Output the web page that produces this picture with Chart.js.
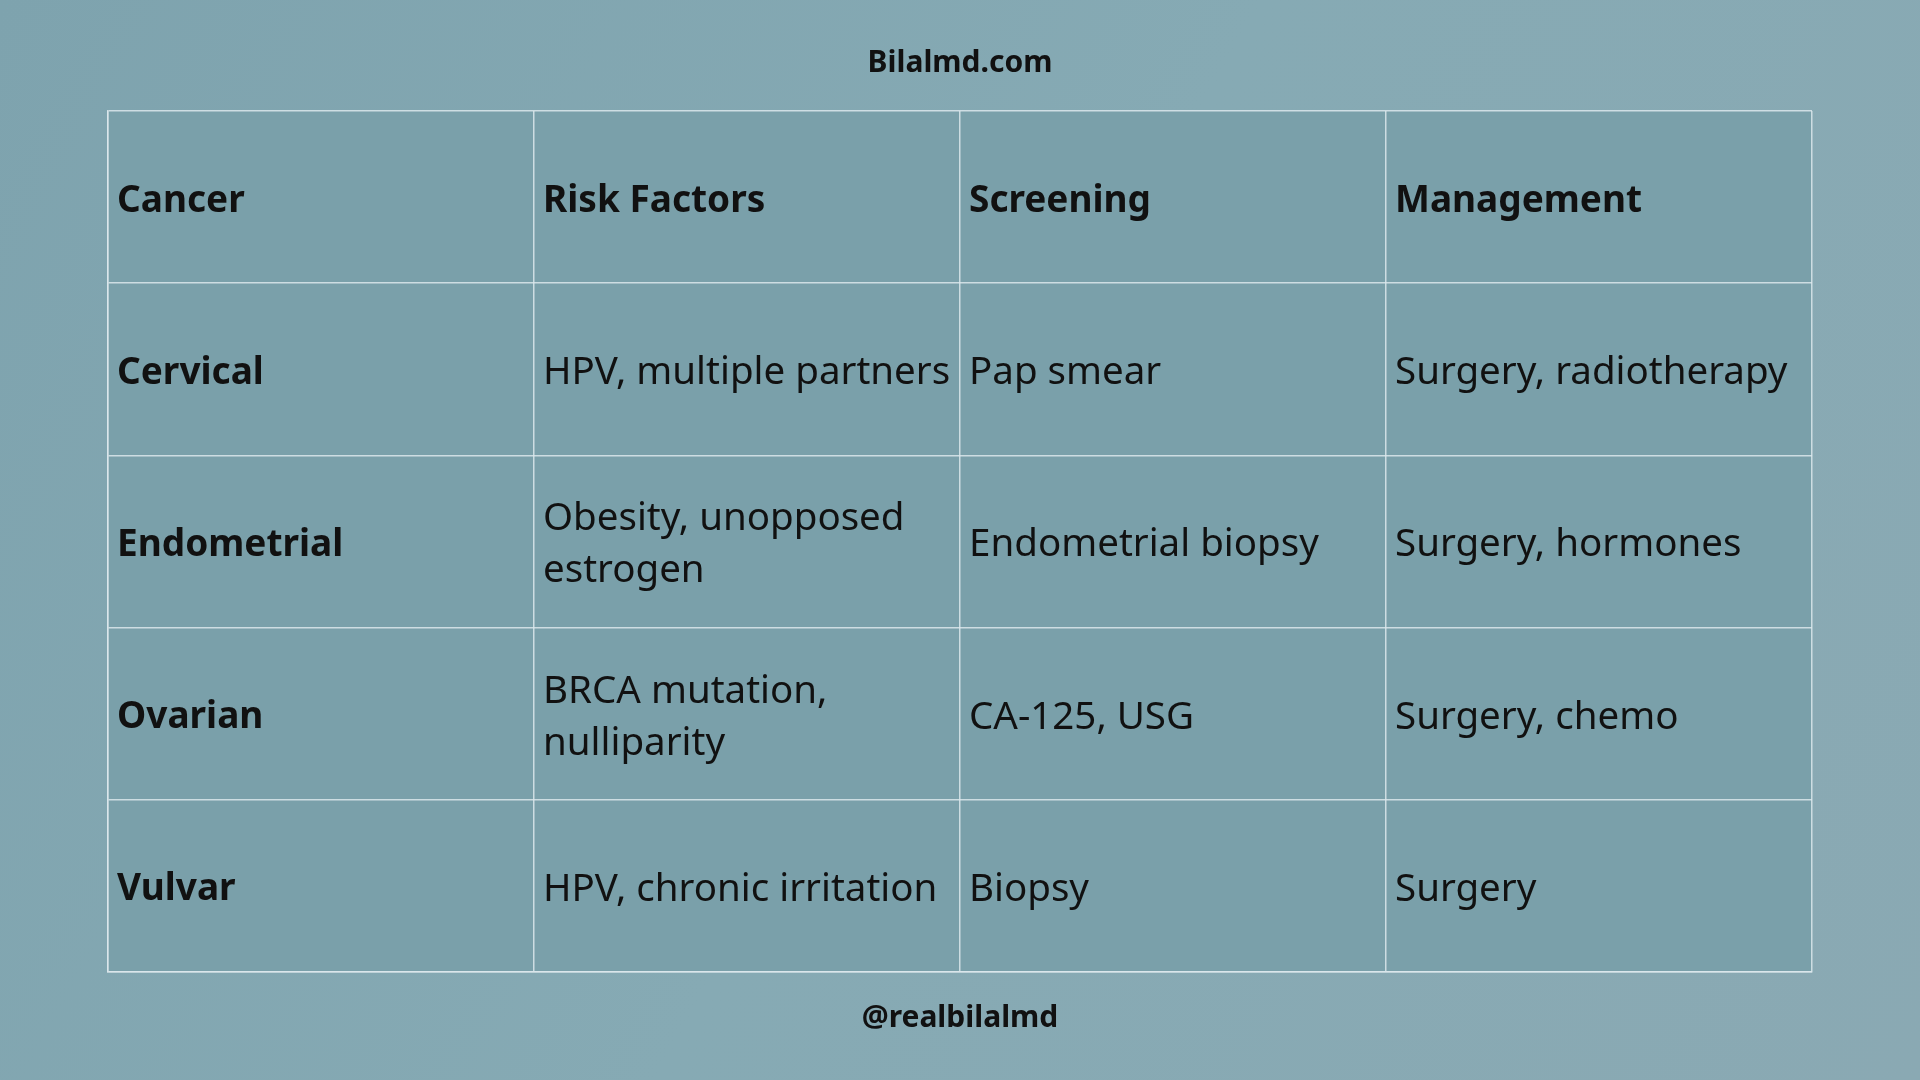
<!DOCTYPE html>
<html><head><meta charset="utf-8">
<script src="https://cdn.jsdelivr.net/npm/chart.js@4"></script>
<style>html,body{margin:0;padding:0;background:#84a8b2}canvas{display:block}</style>
</head><body>
<canvas id="c" width="1920" height="1080"></canvas>
<script>
const siteTitle = "Bilalmd.com";
const footerText = "@realbilalmd";
const headers = ["Cancer", "Risk Factors", "Screening", "Management"];
const cancers = ["Cervical", "Endometrial", "Ovarian", "Vulvar"];
const riskFactors = ["HPV, multiple partners", "Obesity, unopposed\nestrogen", "BRCA mutation,\nnulliparity", "HPV, chronic irritation"];
const screening = ["Pap smear", "Endometrial biopsy", "CA-125, USG", "Biopsy"];
const management = ["Surgery, radiotherapy", "Surgery, hormones", "Surgery, chemo", "Surgery"];

const FONT = '"Noto Sans", "Open Sans", sans-serif';
const tablePlugin = {
  id: 'tablePlugin',
  beforeDraw(chart) {
    const ctx = chart.ctx, a = chart.chartArea;
    const g = ctx.createLinearGradient(0, 0, 1920, 1080);
    g.addColorStop(0, '#7ea3ae'); g.addColorStop(0.5, '#86aab4'); g.addColorStop(1, '#8aa9b3');
    ctx.save(); ctx.fillStyle = g; ctx.fillRect(0, 0, 1920, 1080);
    ctx.fillStyle = '#7aa0aa'; ctx.fillRect(a.left, a.top, a.right - a.left, a.bottom - a.top);
    ctx.restore();
  },
  afterDraw(chart) {
    const ctx = chart.ctx, xs = chart.scales.x, ys = chart.scales.y;
    ctx.save();
    ctx.fillStyle = '#111';
    ctx.textAlign = 'center'; ctx.textBaseline = 'middle';
    ctx.font = 'bold 30px ' + FONT;
    ctx.fillText(siteTitle, 960, 63);
    ctx.fillText(footerText, 960, 1018);
    ctx.textAlign = 'left';
    const cols = [cancers, riskFactors, screening, management];
    const cell = (txt, c, r, bold) => {
      ctx.font = (bold ? 'bold 37px ' : '38.5px ') + FONT;
      const lines = txt.split('\n');
      const lh = 52;
      const cy = ys.getPixelForValue(r + 0.5) + 4;
      const x = xs.getPixelForValue(c) + 9;
      lines.forEach((l, i) => ctx.fillText(l, x, cy + (i - (lines.length - 1) / 2) * lh));
    };
    headers.forEach((h, c) => cell(h, c, 0, true));
    cols.forEach((col, c) => col.forEach((t, r) => cell(t, c, r + 1, c === 0)));
    ctx.restore();
  }
};

new Chart(document.getElementById('c'), {
  type: 'scatter',
  data: { datasets: [{ data: [] }] },
  options: {
    responsive: false, animation: false,
    layout: { padding: { left: 108, right: 108, top: 111, bottom: 108 } },
    plugins: { legend: { display: false }, tooltip: { enabled: false } },
    scales: {
      x: { type: 'linear', min: 0, max: headers.length,
        ticks: { display: false, stepSize: 1 },
        grid: { color: 'rgba(220,232,236,0.85)', lineWidth: 1.5, drawTicks: false },
        border: { display: true, color: 'rgba(220,232,236,0.85)', width: 1.5 } },
      y: { type: 'linear', reverse: true, min: 0, max: cancers.length + 1,
        ticks: { display: false, stepSize: 1 },
        grid: { color: 'rgba(220,232,236,0.85)', lineWidth: 1.5, drawTicks: false },
        border: { display: true, color: 'rgba(220,232,236,0.85)', width: 1.5 } }
    }
  },
  plugins: [tablePlugin]
});
</script>
</body></html>
